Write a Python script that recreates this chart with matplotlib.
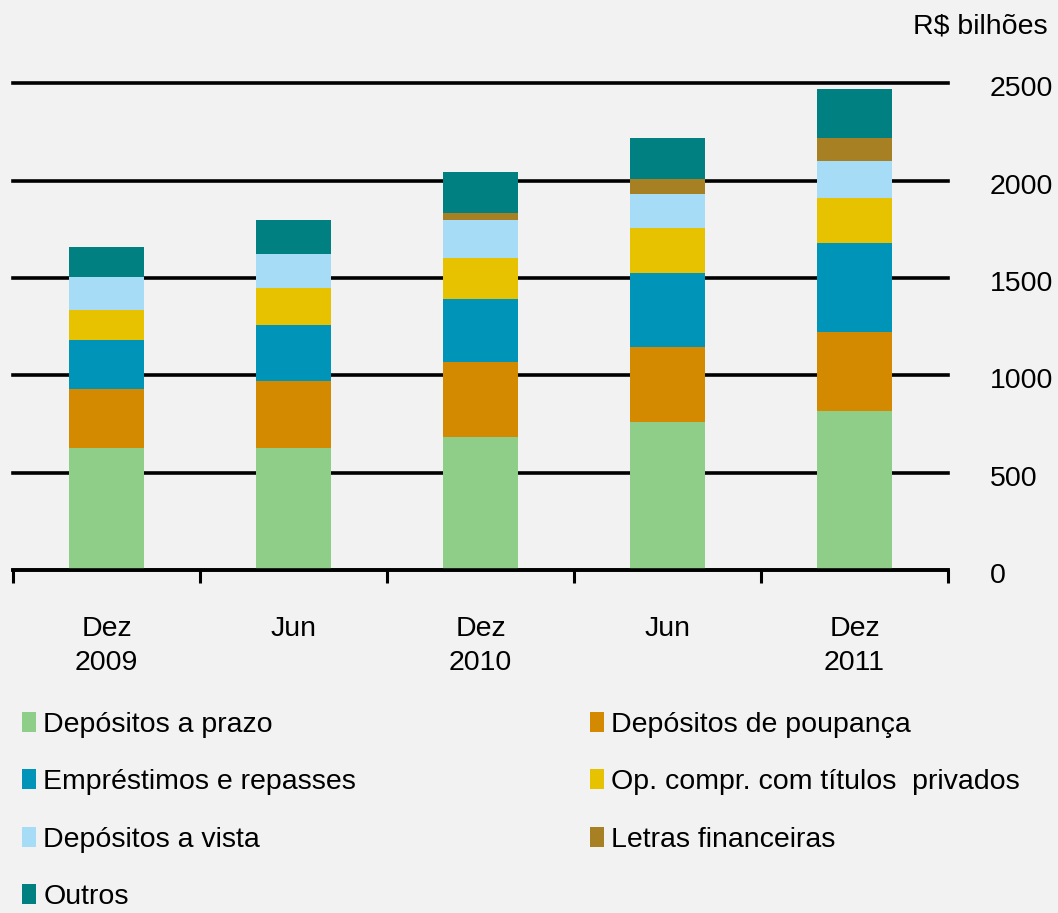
import matplotlib
matplotlib.use("Agg")
import matplotlib.pyplot as plt
from matplotlib.patches import Patch
from matplotlib.transforms import ScaledTranslation
import numpy as np

plt.rcParams['font.family'] = ['Liberation Sans', 'DejaVu Sans']

categories = ["Dez\n2009", "Jun", "Dez\n2010", "Jun", "Dez\n2011"]
series_names = ["Depósitos a prazo", "Depósitos de poupança", "Empréstimos e repasses",
                "Op. compr. com títulos  privados", "Depósitos a vista",
                "Letras financeiras", "Outros"]
dep_prazo = [625, 625, 683, 759, 817]
dep_poupanca = [307, 346, 384, 385, 404]
emprestimos = [248, 286, 326, 382, 459]
op_compr = [155, 194, 212, 231, 232]
dep_vista = [172, 171, 192, 174, 191]
letras = [0, 0, 39, 77, 117]
outros = [154, 175, 211, 212, 250]
yticks = [0, 500, 1000, 1500, 2000, 2500]

colors = ["#8FCE89", "#D48A00", "#0094B8", "#E6C200", "#A6DCF5", "#A68023", "#008080"]
data = [dep_prazo, dep_poupanca, emprestimos, op_compr, dep_vista, letras, outros]

bg = "#F2F2F2"
fig = plt.figure(figsize=(10.58, 9.13), dpi=100, facecolor=bg)
ax = fig.add_axes([13/1058, 1-570/913, 935/1058, (570-83.5)/913])
ax.set_facecolor(bg)

x = np.arange(len(categories))
bottom = np.zeros(len(categories))
handles = []
for vals, col, name in zip(data, colors, series_names):
    ax.bar(x, vals, width=0.4, bottom=bottom, color=col, zorder=3, linewidth=0)
    bottom += np.array(vals)
    handles.append(Patch(facecolor=col, edgecolor='none', label=name))

ax.set_xlim(-0.5, len(categories) - 0.5)
ax.set_ylim(0, 2500)
ax.set_yticks(yticks)
ax.set_yticklabels([str(v) for v in yticks], fontsize=20.5)
ax.yaxis.tick_right()
ax.tick_params(axis='y', length=0, pad=30)
shift = ScaledTranslation(0, -3/100, fig.dpi_scale_trans)
for lab in ax.get_yticklabels():
    lab.set_transform(lab.get_transform() + shift)
ax.yaxis.grid(True, color='black', linewidth=2.6, zorder=1)
for gl in ax.get_ygridlines():
    gl.set_clip_on(False)
ax.set_axisbelow(True)

ax.set_xticks(x)
ax.set_xticklabels(categories, fontsize=20.5, linespacing=1.4)
ax.tick_params(axis='x', which='major', length=0, pad=33)
ax.set_xticks(np.arange(-0.5, len(categories)), minor=True)
ax.tick_params(axis='x', which='minor', length=9, width=2.2, color='black', direction='out')

for s in ['top', 'right', 'left']:
    ax.spines[s].set_visible(False)
ax.spines['bottom'].set_color('black')
ax.spines['bottom'].set_linewidth(2.6)
ax.spines['bottom'].set_zorder(4)

fig.text(1048/1058, 1-26/913, "R$ bilhões", ha='right', va='center', fontsize=20.5)

order = [0, 2, 4, 6, 1, 3, 5]
leg = fig.legend([handles[i] for i in order], [series_names[i] for i in order],
                 ncol=2, loc='upper left', bbox_to_anchor=(22/1058, 1-712/913),
                 frameon=False, fontsize=20.5, handlelength=0.5, handleheight=0.7,
                 handletextpad=0.25, labelspacing=1.1, columnspacing=8.2,
                 borderaxespad=0, borderpad=0)

fig.savefig("out.png", dpi=100, facecolor=bg)
